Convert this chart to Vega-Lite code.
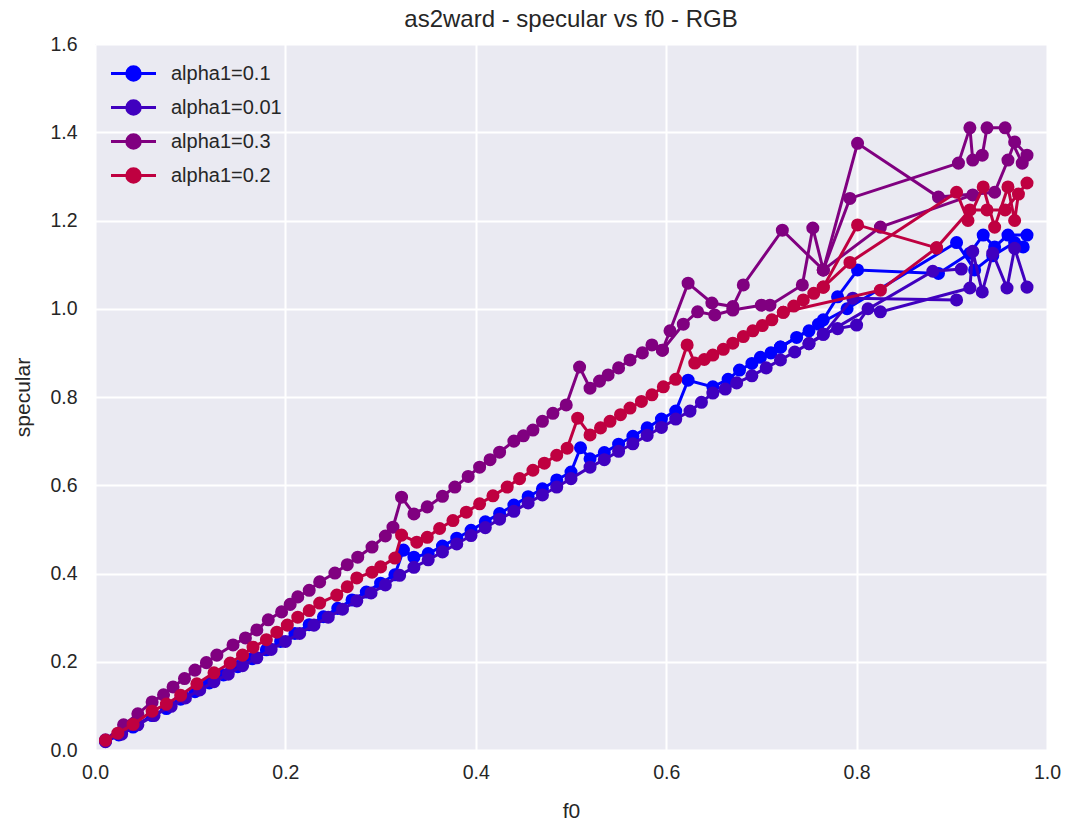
{
"$schema": "https://vega.github.io/schema/vega-lite/v6.json",
"width": 952, "height": 706,
"autosize": {"type": "none"},
"padding": {"left": 95, "top": 44, "right": 18, "bottom": 74},
"background": "white",
"title": {"text": "as2ward - specular vs f0 - RGB", "fontSize": 24, "font": "Liberation Sans", "fontWeight": "normal", "color": "#262626", "offset": 2, "anchor": "middle", "frame": "group"},
"data": {"values": [
{"alpha1":"alpha1=0.1","run":"b1","i":0,"f0":0.011,"specular":0.020},
{"alpha1":"alpha1=0.1","run":"b1","i":1,"f0":0.025,"specular":0.034},
{"alpha1":"alpha1=0.1","run":"b1","i":2,"f0":0.04,"specular":0.052},
{"alpha1":"alpha1=0.1","run":"b1","i":3,"f0":0.06,"specular":0.078},
{"alpha1":"alpha1=0.1","run":"b1","i":4,"f0":0.075,"specular":0.094},
{"alpha1":"alpha1=0.1","run":"b1","i":5,"f0":0.09,"specular":0.115},
{"alpha1":"alpha1=0.1","run":"b1","i":6,"f0":0.105,"specular":0.132},
{"alpha1":"alpha1=0.1","run":"b1","i":7,"f0":0.12,"specular":0.152},
{"alpha1":"alpha1=0.1","run":"b1","i":8,"f0":0.135,"specular":0.170},
{"alpha1":"alpha1=0.1","run":"b1","i":9,"f0":0.15,"specular":0.189},
{"alpha1":"alpha1=0.1","run":"b1","i":10,"f0":0.165,"specular":0.207},
{"alpha1":"alpha1=0.1","run":"b1","i":11,"f0":0.18,"specular":0.227},
{"alpha1":"alpha1=0.1","run":"b1","i":12,"f0":0.195,"specular":0.246},
{"alpha1":"alpha1=0.1","run":"b1","i":13,"f0":0.21,"specular":0.264},
{"alpha1":"alpha1=0.1","run":"b1","i":14,"f0":0.225,"specular":0.284},
{"alpha1":"alpha1=0.1","run":"b1","i":15,"f0":0.24,"specular":0.302},
{"alpha1":"alpha1=0.1","run":"b1","i":16,"f0":0.255,"specular":0.321},
{"alpha1":"alpha1=0.1","run":"b1","i":17,"f0":0.27,"specular":0.340},
{"alpha1":"alpha1=0.1","run":"b1","i":18,"f0":0.285,"specular":0.358},
{"alpha1":"alpha1=0.1","run":"b1","i":19,"f0":0.3,"specular":0.378},
{"alpha1":"alpha1=0.1","run":"b1","i":20,"f0":0.315,"specular":0.397},
{"alpha1":"alpha1=0.1","run":"b1","i":21,"f0":0.324,"specular":0.453},
{"alpha1":"alpha1=0.1","run":"b1","i":22,"f0":0.335,"specular":0.437},
{"alpha1":"alpha1=0.1","run":"b1","i":23,"f0":0.35,"specular":0.445},
{"alpha1":"alpha1=0.1","run":"b1","i":24,"f0":0.365,"specular":0.462},
{"alpha1":"alpha1=0.1","run":"b1","i":25,"f0":0.38,"specular":0.480},
{"alpha1":"alpha1=0.1","run":"b1","i":26,"f0":0.395,"specular":0.498},
{"alpha1":"alpha1=0.1","run":"b1","i":27,"f0":0.41,"specular":0.517},
{"alpha1":"alpha1=0.1","run":"b1","i":28,"f0":0.425,"specular":0.536},
{"alpha1":"alpha1=0.1","run":"b1","i":29,"f0":0.44,"specular":0.555},
{"alpha1":"alpha1=0.1","run":"b1","i":30,"f0":0.455,"specular":0.574},
{"alpha1":"alpha1=0.1","run":"b1","i":31,"f0":0.47,"specular":0.592},
{"alpha1":"alpha1=0.1","run":"b1","i":32,"f0":0.485,"specular":0.612},
{"alpha1":"alpha1=0.1","run":"b1","i":33,"f0":0.5,"specular":0.630},
{"alpha1":"alpha1=0.1","run":"b1","i":34,"f0":0.51,"specular":0.685},
{"alpha1":"alpha1=0.1","run":"b1","i":35,"f0":0.52,"specular":0.660},
{"alpha1":"alpha1=0.1","run":"b1","i":36,"f0":0.535,"specular":0.674},
{"alpha1":"alpha1=0.1","run":"b1","i":37,"f0":0.55,"specular":0.693},
{"alpha1":"alpha1=0.1","run":"b1","i":38,"f0":0.565,"specular":0.711},
{"alpha1":"alpha1=0.1","run":"b1","i":39,"f0":0.58,"specular":0.730},
{"alpha1":"alpha1=0.1","run":"b1","i":40,"f0":0.595,"specular":0.750},
{"alpha1":"alpha1=0.1","run":"b1","i":41,"f0":0.61,"specular":0.768},
{"alpha1":"alpha1=0.1","run":"b1","i":42,"f0":0.623,"specular":0.838},
{"alpha1":"alpha1=0.1","run":"b1","i":43,"f0":0.649,"specular":0.823},
{"alpha1":"alpha1=0.1","run":"b1","i":44,"f0":0.665,"specular":0.840},
{"alpha1":"alpha1=0.1","run":"b1","i":45,"f0":0.677,"specular":0.861},
{"alpha1":"alpha1=0.1","run":"b1","i":46,"f0":0.69,"specular":0.876},
{"alpha1":"alpha1=0.1","run":"b1","i":47,"f0":0.699,"specular":0.890},
{"alpha1":"alpha1=0.1","run":"b1","i":48,"f0":0.71,"specular":0.900},
{"alpha1":"alpha1=0.1","run":"b1","i":49,"f0":0.72,"specular":0.913},
{"alpha1":"alpha1=0.1","run":"b1","i":50,"f0":0.737,"specular":0.935},
{"alpha1":"alpha1=0.1","run":"b1","i":51,"f0":0.75,"specular":0.950},
{"alpha1":"alpha1=0.1","run":"b1","i":52,"f0":0.765,"specular":0.975},
{"alpha1":"alpha1=0.1","run":"b1","i":53,"f0":0.78,"specular":1.027},
{"alpha1":"alpha1=0.1","run":"b1","i":54,"f0":0.801,"specular":1.088},
{"alpha1":"alpha1=0.1","run":"b1","i":55,"f0":0.886,"specular":1.080},
{"alpha1":"alpha1=0.1","run":"b1","i":56,"f0":0.919,"specular":1.126},
{"alpha1":"alpha1=0.1","run":"b1","i":57,"f0":0.933,"specular":1.167},
{"alpha1":"alpha1=0.1","run":"b1","i":58,"f0":0.945,"specular":1.140},
{"alpha1":"alpha1=0.1","run":"b1","i":59,"f0":0.959,"specular":1.167},
{"alpha1":"alpha1=0.1","run":"b1","i":60,"f0":0.979,"specular":1.167},
{"alpha1":"alpha1=0.1","run":"b2","i":0,"f0":0.72,"specular":0.913},
{"alpha1":"alpha1=0.1","run":"b2","i":1,"f0":0.76,"specular":0.965},
{"alpha1":"alpha1=0.1","run":"b2","i":2,"f0":0.79,"specular":1.00},
{"alpha1":"alpha1=0.1","run":"b2","i":3,"f0":0.905,"specular":1.15},
{"alpha1":"alpha1=0.1","run":"b2","i":4,"f0":0.924,"specular":1.088},
{"alpha1":"alpha1=0.1","run":"b2","i":5,"f0":0.943,"specular":1.12},
{"alpha1":"alpha1=0.1","run":"b2","i":6,"f0":0.966,"specular":1.15},
{"alpha1":"alpha1=0.1","run":"b2","i":7,"f0":0.975,"specular":1.14},
{"alpha1":"alpha1=0.01","run":"v1","i":0,"f0":0.011,"specular":0.019},
{"alpha1":"alpha1=0.01","run":"v1","i":1,"f0":0.028,"specular":0.036},
{"alpha1":"alpha1=0.01","run":"v1","i":2,"f0":0.045,"specular":0.057},
{"alpha1":"alpha1=0.01","run":"v1","i":3,"f0":0.062,"specular":0.078},
{"alpha1":"alpha1=0.01","run":"v1","i":4,"f0":0.08,"specular":0.099},
{"alpha1":"alpha1=0.01","run":"v1","i":5,"f0":0.095,"specular":0.118},
{"alpha1":"alpha1=0.01","run":"v1","i":6,"f0":0.11,"specular":0.136},
{"alpha1":"alpha1=0.01","run":"v1","i":7,"f0":0.125,"specular":0.155},
{"alpha1":"alpha1=0.01","run":"v1","i":8,"f0":0.14,"specular":0.172},
{"alpha1":"alpha1=0.01","run":"v1","i":9,"f0":0.155,"specular":0.191},
{"alpha1":"alpha1=0.01","run":"v1","i":10,"f0":0.17,"specular":0.209},
{"alpha1":"alpha1=0.01","run":"v1","i":11,"f0":0.185,"specular":0.228},
{"alpha1":"alpha1=0.01","run":"v1","i":12,"f0":0.2,"specular":0.246},
{"alpha1":"alpha1=0.01","run":"v1","i":13,"f0":0.215,"specular":0.264},
{"alpha1":"alpha1=0.01","run":"v1","i":14,"f0":0.23,"specular":0.283},
{"alpha1":"alpha1=0.01","run":"v1","i":15,"f0":0.245,"specular":0.301},
{"alpha1":"alpha1=0.01","run":"v1","i":16,"f0":0.26,"specular":0.319},
{"alpha1":"alpha1=0.01","run":"v1","i":17,"f0":0.275,"specular":0.338},
{"alpha1":"alpha1=0.01","run":"v1","i":18,"f0":0.29,"specular":0.356},
{"alpha1":"alpha1=0.01","run":"v1","i":19,"f0":0.305,"specular":0.374},
{"alpha1":"alpha1=0.01","run":"v1","i":20,"f0":0.32,"specular":0.396},
{"alpha1":"alpha1=0.01","run":"v1","i":21,"f0":0.335,"specular":0.414},
{"alpha1":"alpha1=0.01","run":"v1","i":22,"f0":0.35,"specular":0.431},
{"alpha1":"alpha1=0.01","run":"v1","i":23,"f0":0.365,"specular":0.449},
{"alpha1":"alpha1=0.01","run":"v1","i":24,"f0":0.38,"specular":0.467},
{"alpha1":"alpha1=0.01","run":"v1","i":25,"f0":0.395,"specular":0.486},
{"alpha1":"alpha1=0.01","run":"v1","i":26,"f0":0.41,"specular":0.504},
{"alpha1":"alpha1=0.01","run":"v1","i":27,"f0":0.425,"specular":0.523},
{"alpha1":"alpha1=0.01","run":"v1","i":28,"f0":0.44,"specular":0.541},
{"alpha1":"alpha1=0.01","run":"v1","i":29,"f0":0.455,"specular":0.560},
{"alpha1":"alpha1=0.01","run":"v1","i":30,"f0":0.47,"specular":0.578},
{"alpha1":"alpha1=0.01","run":"v1","i":31,"f0":0.485,"specular":0.596},
{"alpha1":"alpha1=0.01","run":"v1","i":32,"f0":0.5,"specular":0.615},
{"alpha1":"alpha1=0.01","run":"v1","i":33,"f0":0.52,"specular":0.641},
{"alpha1":"alpha1=0.01","run":"v1","i":34,"f0":0.535,"specular":0.658},
{"alpha1":"alpha1=0.01","run":"v1","i":35,"f0":0.55,"specular":0.677},
{"alpha1":"alpha1=0.01","run":"v1","i":36,"f0":0.565,"specular":0.694},
{"alpha1":"alpha1=0.01","run":"v1","i":37,"f0":0.58,"specular":0.713},
{"alpha1":"alpha1=0.01","run":"v1","i":38,"f0":0.595,"specular":0.731},
{"alpha1":"alpha1=0.01","run":"v1","i":39,"f0":0.61,"specular":0.750},
{"alpha1":"alpha1=0.01","run":"v1","i":40,"f0":0.625,"specular":0.768},
{"alpha1":"alpha1=0.01","run":"v1","i":41,"f0":0.637,"specular":0.788},
{"alpha1":"alpha1=0.01","run":"v1","i":42,"f0":0.649,"specular":0.809},
{"alpha1":"alpha1=0.01","run":"v1","i":43,"f0":0.662,"specular":0.818},
{"alpha1":"alpha1=0.01","run":"v1","i":44,"f0":0.674,"specular":0.832},
{"alpha1":"alpha1=0.01","run":"v1","i":45,"f0":0.69,"specular":0.848},
{"alpha1":"alpha1=0.01","run":"v1","i":46,"f0":0.705,"specular":0.866},
{"alpha1":"alpha1=0.01","run":"v1","i":47,"f0":0.72,"specular":0.884},
{"alpha1":"alpha1=0.01","run":"v1","i":48,"f0":0.735,"specular":0.902},
{"alpha1":"alpha1=0.01","run":"v1","i":49,"f0":0.75,"specular":0.921},
{"alpha1":"alpha1=0.01","run":"v1","i":50,"f0":0.765,"specular":0.942},
{"alpha1":"alpha1=0.01","run":"v1","i":51,"f0":0.78,"specular":0.955},
{"alpha1":"alpha1=0.01","run":"v1","i":52,"f0":0.80,"specular":0.963},
{"alpha1":"alpha1=0.01","run":"v1","i":53,"f0":0.812,"specular":1.0},
{"alpha1":"alpha1=0.01","run":"v1","i":54,"f0":0.825,"specular":0.993},
{"alpha1":"alpha1=0.01","run":"v1","i":55,"f0":0.919,"specular":1.047},
{"alpha1":"alpha1=0.01","run":"v1","i":56,"f0":0.922,"specular":1.13},
{"alpha1":"alpha1=0.01","run":"v1","i":57,"f0":0.932,"specular":1.038},
{"alpha1":"alpha1=0.01","run":"v1","i":58,"f0":0.943,"specular":1.126},
{"alpha1":"alpha1=0.01","run":"v1","i":59,"f0":0.958,"specular":1.047},
{"alpha1":"alpha1=0.01","run":"v1","i":60,"f0":0.966,"specular":1.137},
{"alpha1":"alpha1=0.01","run":"v1","i":61,"f0":0.979,"specular":1.049},
{"alpha1":"alpha1=0.01","run":"v2","i":0,"f0":0.765,"specular":0.942},
{"alpha1":"alpha1=0.01","run":"v2","i":1,"f0":0.796,"specular":1.024},
{"alpha1":"alpha1=0.01","run":"v2","i":2,"f0":0.905,"specular":1.02},
{"alpha1":"alpha1=0.01","run":"v3","i":0,"f0":0.75,"specular":0.921},
{"alpha1":"alpha1=0.01","run":"v3","i":1,"f0":0.88,"specular":1.085},
{"alpha1":"alpha1=0.01","run":"v3","i":2,"f0":0.91,"specular":1.09},
{"alpha1":"alpha1=0.3","run":"p1","i":0,"f0":0.011,"specular":0.023},
{"alpha1":"alpha1=0.3","run":"p1","i":1,"f0":0.03,"specular":0.057},
{"alpha1":"alpha1=0.3","run":"p1","i":2,"f0":0.045,"specular":0.082},
{"alpha1":"alpha1=0.3","run":"p1","i":3,"f0":0.06,"specular":0.109},
{"alpha1":"alpha1=0.3","run":"p1","i":4,"f0":0.072,"specular":0.125},
{"alpha1":"alpha1=0.3","run":"p1","i":5,"f0":0.082,"specular":0.143},
{"alpha1":"alpha1=0.3","run":"p1","i":6,"f0":0.094,"specular":0.162},
{"alpha1":"alpha1=0.3","run":"p1","i":7,"f0":0.105,"specular":0.181},
{"alpha1":"alpha1=0.3","run":"p1","i":8,"f0":0.117,"specular":0.198},
{"alpha1":"alpha1=0.3","run":"p1","i":9,"f0":0.128,"specular":0.215},
{"alpha1":"alpha1=0.3","run":"p1","i":10,"f0":0.145,"specular":0.238},
{"alpha1":"alpha1=0.3","run":"p1","i":11,"f0":0.158,"specular":0.254},
{"alpha1":"alpha1=0.3","run":"p1","i":12,"f0":0.17,"specular":0.272},
{"alpha1":"alpha1=0.3","run":"p1","i":13,"f0":0.182,"specular":0.295},
{"alpha1":"alpha1=0.3","run":"p1","i":14,"f0":0.196,"specular":0.313},
{"alpha1":"alpha1=0.3","run":"p1","i":15,"f0":0.205,"specular":0.330},
{"alpha1":"alpha1=0.3","run":"p1","i":16,"f0":0.213,"specular":0.347},
{"alpha1":"alpha1=0.3","run":"p1","i":17,"f0":0.225,"specular":0.362},
{"alpha1":"alpha1=0.3","run":"p1","i":18,"f0":0.236,"specular":0.381},
{"alpha1":"alpha1=0.3","run":"p1","i":19,"f0":0.252,"specular":0.401},
{"alpha1":"alpha1=0.3","run":"p1","i":20,"f0":0.265,"specular":0.420},
{"alpha1":"alpha1=0.3","run":"p1","i":21,"f0":0.276,"specular":0.437},
{"alpha1":"alpha1=0.3","run":"p1","i":22,"f0":0.291,"specular":0.460},
{"alpha1":"alpha1=0.3","run":"p1","i":23,"f0":0.305,"specular":0.485},
{"alpha1":"alpha1=0.3","run":"p1","i":24,"f0":0.313,"specular":0.505},
{"alpha1":"alpha1=0.3","run":"p1","i":25,"f0":0.322,"specular":0.573},
{"alpha1":"alpha1=0.3","run":"p1","i":26,"f0":0.335,"specular":0.535},
{"alpha1":"alpha1=0.3","run":"p1","i":27,"f0":0.349,"specular":0.551},
{"alpha1":"alpha1=0.3","run":"p1","i":28,"f0":0.365,"specular":0.575},
{"alpha1":"alpha1=0.3","run":"p1","i":29,"f0":0.378,"specular":0.596},
{"alpha1":"alpha1=0.3","run":"p1","i":30,"f0":0.392,"specular":0.620},
{"alpha1":"alpha1=0.3","run":"p1","i":31,"f0":0.404,"specular":0.641},
{"alpha1":"alpha1=0.3","run":"p1","i":32,"f0":0.415,"specular":0.658},
{"alpha1":"alpha1=0.3","run":"p1","i":33,"f0":0.425,"specular":0.675},
{"alpha1":"alpha1=0.3","run":"p1","i":34,"f0":0.44,"specular":0.700},
{"alpha1":"alpha1=0.3","run":"p1","i":35,"f0":0.45,"specular":0.712},
{"alpha1":"alpha1=0.3","run":"p1","i":36,"f0":0.46,"specular":0.725},
{"alpha1":"alpha1=0.3","run":"p1","i":37,"f0":0.47,"specular":0.745},
{"alpha1":"alpha1=0.3","run":"p1","i":38,"f0":0.481,"specular":0.763},
{"alpha1":"alpha1=0.3","run":"p1","i":39,"f0":0.495,"specular":0.782},
{"alpha1":"alpha1=0.3","run":"p1","i":40,"f0":0.509,"specular":0.868},
{"alpha1":"alpha1=0.3","run":"p1","i":41,"f0":0.52,"specular":0.820},
{"alpha1":"alpha1=0.3","run":"p1","i":42,"f0":0.53,"specular":0.836},
{"alpha1":"alpha1=0.3","run":"p1","i":43,"f0":0.539,"specular":0.850},
{"alpha1":"alpha1=0.3","run":"p1","i":44,"f0":0.55,"specular":0.866},
{"alpha1":"alpha1=0.3","run":"p1","i":45,"f0":0.562,"specular":0.884},
{"alpha1":"alpha1=0.3","run":"p1","i":46,"f0":0.575,"specular":0.900},
{"alpha1":"alpha1=0.3","run":"p1","i":47,"f0":0.585,"specular":0.918},
{"alpha1":"alpha1=0.3","run":"p1","i":48,"f0":0.596,"specular":0.906},
{"alpha1":"alpha1=0.3","run":"p1","i":49,"f0":0.604,"specular":0.950},
{"alpha1":"alpha1=0.3","run":"p1","i":50,"f0":0.623,"specular":1.058},
{"alpha1":"alpha1=0.3","run":"p1","i":51,"f0":0.648,"specular":1.013},
{"alpha1":"alpha1=0.3","run":"p1","i":52,"f0":0.67,"specular":1.005},
{"alpha1":"alpha1=0.3","run":"p1","i":53,"f0":0.681,"specular":1.054},
{"alpha1":"alpha1=0.3","run":"p1","i":54,"f0":0.722,"specular":1.178},
{"alpha1":"alpha1=0.3","run":"p1","i":55,"f0":0.765,"specular":1.088},
{"alpha1":"alpha1=0.3","run":"p1","i":56,"f0":0.801,"specular":1.375},
{"alpha1":"alpha1=0.3","run":"p1","i":57,"f0":0.886,"specular":1.253},
{"alpha1":"alpha1=0.3","run":"p1","i":58,"f0":0.945,"specular":1.264},
{"alpha1":"alpha1=0.3","run":"p1","i":59,"f0":0.959,"specular":1.337},
{"alpha1":"alpha1=0.3","run":"p1","i":60,"f0":0.966,"specular":1.378},
{"alpha1":"alpha1=0.3","run":"p1","i":61,"f0":0.979,"specular":1.348},
{"alpha1":"alpha1=0.3","run":"p2","i":0,"f0":0.596,"specular":0.906},
{"alpha1":"alpha1=0.3","run":"p2","i":1,"f0":0.618,"specular":0.965},
{"alpha1":"alpha1=0.3","run":"p2","i":2,"f0":0.633,"specular":0.993},
{"alpha1":"alpha1=0.3","run":"p2","i":3,"f0":0.651,"specular":0.986},
{"alpha1":"alpha1=0.3","run":"p2","i":4,"f0":0.67,"specular":0.997},
{"alpha1":"alpha1=0.3","run":"p2","i":5,"f0":0.70,"specular":1.008},
{"alpha1":"alpha1=0.3","run":"p2","i":6,"f0":0.709,"specular":1.008},
{"alpha1":"alpha1=0.3","run":"p2","i":7,"f0":0.743,"specular":1.054},
{"alpha1":"alpha1=0.3","run":"p2","i":8,"f0":0.754,"specular":1.183},
{"alpha1":"alpha1=0.3","run":"p2","i":9,"f0":0.765,"specular":1.088},
{"alpha1":"alpha1=0.3","run":"p2","i":10,"f0":0.793,"specular":1.25},
{"alpha1":"alpha1=0.3","run":"p2","i":11,"f0":0.907,"specular":1.33},
{"alpha1":"alpha1=0.3","run":"p2","i":12,"f0":0.919,"specular":1.41},
{"alpha1":"alpha1=0.3","run":"p2","i":13,"f0":0.922,"specular":1.337},
{"alpha1":"alpha1=0.3","run":"p2","i":14,"f0":0.932,"specular":1.348},
{"alpha1":"alpha1=0.3","run":"p2","i":15,"f0":0.937,"specular":1.41},
{"alpha1":"alpha1=0.3","run":"p2","i":16,"f0":0.956,"specular":1.41},
{"alpha1":"alpha1=0.3","run":"p2","i":17,"f0":0.974,"specular":1.33},
{"alpha1":"alpha1=0.3","run":"p3","i":0,"f0":0.765,"specular":1.088},
{"alpha1":"alpha1=0.3","run":"p3","i":1,"f0":0.825,"specular":1.185},
{"alpha1":"alpha1=0.3","run":"p3","i":2,"f0":0.922,"specular":1.258},
{"alpha1":"alpha1=0.2","run":"c1","i":0,"f0":0.011,"specular":0.022},
{"alpha1":"alpha1=0.2","run":"c1","i":1,"f0":0.024,"specular":0.038},
{"alpha1":"alpha1=0.2","run":"c1","i":2,"f0":0.04,"specular":0.058},
{"alpha1":"alpha1=0.2","run":"c1","i":3,"f0":0.06,"specular":0.088},
{"alpha1":"alpha1=0.2","run":"c1","i":4,"f0":0.075,"specular":0.104},
{"alpha1":"alpha1=0.2","run":"c1","i":5,"f0":0.09,"specular":0.124},
{"alpha1":"alpha1=0.2","run":"c1","i":6,"f0":0.107,"specular":0.150},
{"alpha1":"alpha1=0.2","run":"c1","i":7,"f0":0.125,"specular":0.175},
{"alpha1":"alpha1=0.2","run":"c1","i":8,"f0":0.142,"specular":0.197},
{"alpha1":"alpha1=0.2","run":"c1","i":9,"f0":0.155,"specular":0.215},
{"alpha1":"alpha1=0.2","run":"c1","i":10,"f0":0.166,"specular":0.233},
{"alpha1":"alpha1=0.2","run":"c1","i":11,"f0":0.18,"specular":0.250},
{"alpha1":"alpha1=0.2","run":"c1","i":12,"f0":0.191,"specular":0.267},
{"alpha1":"alpha1=0.2","run":"c1","i":13,"f0":0.202,"specular":0.283},
{"alpha1":"alpha1=0.2","run":"c1","i":14,"f0":0.213,"specular":0.301},
{"alpha1":"alpha1=0.2","run":"c1","i":15,"f0":0.225,"specular":0.316},
{"alpha1":"alpha1=0.2","run":"c1","i":16,"f0":0.236,"specular":0.333},
{"alpha1":"alpha1=0.2","run":"c1","i":17,"f0":0.254,"specular":0.351},
{"alpha1":"alpha1=0.2","run":"c1","i":18,"f0":0.265,"specular":0.370},
{"alpha1":"alpha1=0.2","run":"c1","i":19,"f0":0.275,"specular":0.390},
{"alpha1":"alpha1=0.2","run":"c1","i":20,"f0":0.291,"specular":0.403},
{"alpha1":"alpha1=0.2","run":"c1","i":21,"f0":0.3,"specular":0.415},
{"alpha1":"alpha1=0.2","run":"c1","i":22,"f0":0.315,"specular":0.435},
{"alpha1":"alpha1=0.2","run":"c1","i":23,"f0":0.322,"specular":0.487},
{"alpha1":"alpha1=0.2","run":"c1","i":24,"f0":0.338,"specular":0.471},
{"alpha1":"alpha1=0.2","run":"c1","i":25,"f0":0.349,"specular":0.482},
{"alpha1":"alpha1=0.2","run":"c1","i":26,"f0":0.362,"specular":0.502},
{"alpha1":"alpha1=0.2","run":"c1","i":27,"f0":0.376,"specular":0.520},
{"alpha1":"alpha1=0.2","run":"c1","i":28,"f0":0.39,"specular":0.539},
{"alpha1":"alpha1=0.2","run":"c1","i":29,"f0":0.404,"specular":0.558},
{"alpha1":"alpha1=0.2","run":"c1","i":30,"f0":0.418,"specular":0.576},
{"alpha1":"alpha1=0.2","run":"c1","i":31,"f0":0.433,"specular":0.596},
{"alpha1":"alpha1=0.2","run":"c1","i":32,"f0":0.446,"specular":0.615},
{"alpha1":"alpha1=0.2","run":"c1","i":33,"f0":0.46,"specular":0.634},
{"alpha1":"alpha1=0.2","run":"c1","i":34,"f0":0.472,"specular":0.650},
{"alpha1":"alpha1=0.2","run":"c1","i":35,"f0":0.485,"specular":0.668},
{"alpha1":"alpha1=0.2","run":"c1","i":36,"f0":0.496,"specular":0.684},
{"alpha1":"alpha1=0.2","run":"c1","i":37,"f0":0.507,"specular":0.752},
{"alpha1":"alpha1=0.2","run":"c1","i":38,"f0":0.52,"specular":0.714},
{"alpha1":"alpha1=0.2","run":"c1","i":39,"f0":0.531,"specular":0.730},
{"alpha1":"alpha1=0.2","run":"c1","i":40,"f0":0.541,"specular":0.745},
{"alpha1":"alpha1=0.2","run":"c1","i":41,"f0":0.552,"specular":0.760},
{"alpha1":"alpha1=0.2","run":"c1","i":42,"f0":0.562,"specular":0.775},
{"alpha1":"alpha1=0.2","run":"c1","i":43,"f0":0.574,"specular":0.790},
{"alpha1":"alpha1=0.2","run":"c1","i":44,"f0":0.585,"specular":0.805},
{"alpha1":"alpha1=0.2","run":"c1","i":45,"f0":0.597,"specular":0.823},
{"alpha1":"alpha1=0.2","run":"c1","i":46,"f0":0.61,"specular":0.840},
{"alpha1":"alpha1=0.2","run":"c1","i":47,"f0":0.622,"specular":0.918},
{"alpha1":"alpha1=0.2","run":"c1","i":48,"f0":0.63,"specular":0.877},
{"alpha1":"alpha1=0.2","run":"c1","i":49,"f0":0.64,"specular":0.885},
{"alpha1":"alpha1=0.2","run":"c1","i":50,"f0":0.649,"specular":0.895},
{"alpha1":"alpha1=0.2","run":"c1","i":51,"f0":0.66,"specular":0.908},
{"alpha1":"alpha1=0.2","run":"c1","i":52,"f0":0.67,"specular":0.922},
{"alpha1":"alpha1=0.2","run":"c1","i":53,"f0":0.681,"specular":0.937},
{"alpha1":"alpha1=0.2","run":"c1","i":54,"f0":0.691,"specular":0.950},
{"alpha1":"alpha1=0.2","run":"c1","i":55,"f0":0.701,"specular":0.962},
{"alpha1":"alpha1=0.2","run":"c1","i":56,"f0":0.711,"specular":0.975},
{"alpha1":"alpha1=0.2","run":"c1","i":57,"f0":0.723,"specular":0.992},
{"alpha1":"alpha1=0.2","run":"c1","i":58,"f0":0.734,"specular":1.006},
{"alpha1":"alpha1=0.2","run":"c1","i":59,"f0":0.744,"specular":1.020},
{"alpha1":"alpha1=0.2","run":"c1","i":60,"f0":0.755,"specular":1.035},
{"alpha1":"alpha1=0.2","run":"c1","i":61,"f0":0.765,"specular":1.049},
{"alpha1":"alpha1=0.2","run":"c1","i":62,"f0":0.801,"specular":1.190},
{"alpha1":"alpha1=0.2","run":"c1","i":63,"f0":0.884,"specular":1.138},
{"alpha1":"alpha1=0.2","run":"c1","i":64,"f0":0.919,"specular":1.224},
{"alpha1":"alpha1=0.2","run":"c1","i":65,"f0":0.937,"specular":1.224},
{"alpha1":"alpha1=0.2","run":"c1","i":66,"f0":0.956,"specular":1.224},
{"alpha1":"alpha1=0.2","run":"c1","i":67,"f0":0.979,"specular":1.285},
{"alpha1":"alpha1=0.2","run":"c2","i":0,"f0":0.765,"specular":1.049},
{"alpha1":"alpha1=0.2","run":"c2","i":1,"f0":0.793,"specular":1.105},
{"alpha1":"alpha1=0.2","run":"c2","i":2,"f0":0.905,"specular":1.264},
{"alpha1":"alpha1=0.2","run":"c2","i":3,"f0":0.917,"specular":1.20},
{"alpha1":"alpha1=0.2","run":"c2","i":4,"f0":0.933,"specular":1.276},
{"alpha1":"alpha1=0.2","run":"c2","i":5,"f0":0.945,"specular":1.185},
{"alpha1":"alpha1=0.2","run":"c2","i":6,"f0":0.959,"specular":1.276},
{"alpha1":"alpha1=0.2","run":"c2","i":7,"f0":0.966,"specular":1.20},
{"alpha1":"alpha1=0.2","run":"c2","i":8,"f0":0.97,"specular":1.26},
{"alpha1":"alpha1=0.2","run":"c3","i":0,"f0":0.723,"specular":0.992},
{"alpha1":"alpha1=0.2","run":"c3","i":1,"f0":0.825,"specular":1.042},
{"alpha1":"alpha1=0.2","run":"c3","i":2,"f0":0.884,"specular":1.138}
]},
"encoding": {
"x": {"field": "f0", "type": "quantitative", "scale": {"domain": [0, 1], "nice": false, "zero": false},
  "axis": {"title": "f0", "values": [0, 0.2, 0.4, 0.6, 0.8, 1.0], "format": ".1f", "labelPadding": 13, "titlePadding": 19, "labelFlush": false, "labelOverlap": false}},
"y": {"field": "specular", "type": "quantitative", "scale": {"domain": [0, 1.6], "nice": false},
  "axis": {"title": "specular", "values": [0, 0.2, 0.4, 0.6, 0.8, 1.0, 1.2, 1.4, 1.6], "format": ".1f", "labelPadding": 18, "titlePadding": 16, "labelOverlap": false}},
"color": {"field": "alpha1", "type": "nominal",
  "scale": {"domain": ["alpha1=0.1", "alpha1=0.01", "alpha1=0.3", "alpha1=0.2"], "range": ["#0000FF", "#4000BF", "#800080", "#BF0040"]},
  "legend": {"orient": "none", "legendX": 22, "legendY": 13, "title": null, "padding": 0,
    "symbolType": "M-1.5,0L1.5,0M0.45,0A0.45,0.45,0,1,1,-0.45,0A0.45,0.45,0,1,1,0.45,0Z",
    "symbolSize": 900, "symbolStrokeWidth": 3, "symbolOpacity": 1,
    "labelFontSize": 20, "labelFont": "Liberation Sans", "labelColor": "#262626", "labelOffset": 21, "rowPadding": 4,
    "encode": {"symbols": {"update": {"fill": {"scale": "color", "field": "value"}, "stroke": {"scale": "color", "field": "value"}, "opacity": {"value": 1}}}}}}
},
"layer": [
{"transform": [{"filter": "datum.alpha1 === 'alpha1=0.1'"}], "mark": {"type": "line", "strokeWidth": 3}, "encoding": {"detail": {"field": "run"}, "order": {"field": "i", "type": "quantitative"}}},
{"transform": [{"filter": "datum.alpha1 === 'alpha1=0.1'"}], "mark": {"type": "point", "filled": true, "size": 170, "opacity": 1, "strokeWidth": 0}},
{"transform": [{"filter": "datum.alpha1 === 'alpha1=0.01'"}], "mark": {"type": "line", "strokeWidth": 3}, "encoding": {"detail": {"field": "run"}, "order": {"field": "i", "type": "quantitative"}}},
{"transform": [{"filter": "datum.alpha1 === 'alpha1=0.01'"}], "mark": {"type": "point", "filled": true, "size": 170, "opacity": 1, "strokeWidth": 0}},
{"transform": [{"filter": "datum.alpha1 === 'alpha1=0.3'"}], "mark": {"type": "line", "strokeWidth": 3}, "encoding": {"detail": {"field": "run"}, "order": {"field": "i", "type": "quantitative"}}},
{"transform": [{"filter": "datum.alpha1 === 'alpha1=0.3'"}], "mark": {"type": "point", "filled": true, "size": 170, "opacity": 1, "strokeWidth": 0}},
{"transform": [{"filter": "datum.alpha1 === 'alpha1=0.2'"}], "mark": {"type": "line", "strokeWidth": 3}, "encoding": {"detail": {"field": "run"}, "order": {"field": "i", "type": "quantitative"}}},
{"transform": [{"filter": "datum.alpha1 === 'alpha1=0.2'"}], "mark": {"type": "point", "filled": true, "size": 170, "opacity": 1, "strokeWidth": 0}}
],
"config": {
"view": {"fill": "#EAEAF2", "stroke": null},
"axis": {"domain": false, "ticks": false, "tickSize": 0, "grid": true, "gridColor": "#FFFFFF", "gridWidth": 2,
  "labelFont": "Liberation Sans", "labelFontSize": 19.5, "labelColor": "#262626",
  "titleFont": "Liberation Sans", "titleFontSize": 21, "titleFontWeight": "normal", "titleColor": "#262626"}
}
}
